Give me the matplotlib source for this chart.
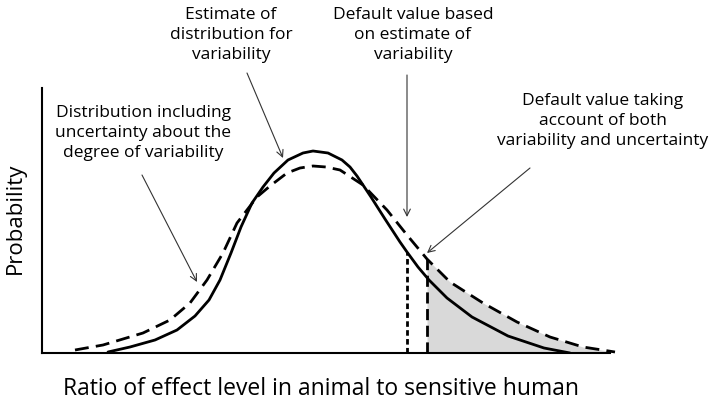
import numpy as np
import matplotlib
matplotlib.use("Agg")
import matplotlib.pyplot as plt

# Curve values (x: position along ratio axis, y: probability, arbitrary units)
solid_x = [66, 88, 113, 135, 153, 167, 178, 189, 199, 210, 221, 232, 246, 261,
           271, 286, 300, 308, 315, 329, 343, 358, 365, 376, 387, 405, 430,
           466, 502, 528]
solid_y = [1, 6, 13, 23, 37, 53, 73, 100, 126, 150, 166, 180, 193, 200,
           202, 200, 193, 186, 177, 156, 134, 111, 101, 86, 73, 55, 36,
           17, 5, 0]

dash_x = [33, 61, 101, 128, 148, 165, 181, 195, 215, 228, 245, 258, 271, 284,
          298, 321, 345, 365, 375, 385, 408, 441, 475, 508, 541, 573]
dash_y = [3, 8, 20, 33, 50, 73, 100, 130, 156, 167, 180, 185, 187, 186,
          183, 168, 143, 118, 106, 94, 71, 50, 31, 16, 6, 1]

default_variability = 365
default_both = 385

xlabel = "Ratio of effect level in animal to sensitive human"
ylabel = "Probability"
note_estimate = "Estimate of\ndistribution for\nvariability"
note_including = "Distribution including\nuncertainty about the\ndegree of variability"
note_default_var = "Default value based\non estimate of\nvariability"
note_default_both = "Default value taking\naccount of both\nvariability and uncertainty"

plt.rcParams['font.family'] = ['Open Sans', 'DejaVu Sans']

W, H = 709, 409
fig = plt.figure(figsize=(W / 100, H / 100), dpi=100)
ax = fig.add_axes([42 / W, (H - 353) / H, 568 / W, 265 / H])
ax.set_xlim(0, 568)
ax.set_ylim(0, 265)
for s in ['top', 'right']:
    ax.spines[s].set_visible(False)
for s in ['left', 'bottom']:
    ax.spines[s].set_linewidth(1.5)
    ax.spines[s].set_color('black')
ax.set_xticks([])
ax.set_yticks([])

dx = np.array(dash_x, float)
dy = np.array(dash_y, float)
sx = np.array(solid_x, float)
sy = np.array(solid_y, float)

# shaded tail under the dashed curve
mask = dx >= default_both
fx = np.concatenate([[default_both], dx[mask]])
fy = np.concatenate([[np.interp(default_both, dx, dy)], dy[mask]])
ax.fill_between(fx, 0, fy, color='#d9d9d9', lw=0, zorder=1)

# vertical default lines
ax.plot([default_variability, default_variability],
        [0, np.interp(default_variability, sx, sy)],
        color='black', lw=2, linestyle=(0, (2, 1.2)), zorder=2)
ax.plot([default_both, default_both],
        [0, np.interp(default_both, dx, dy)],
        color='black', lw=2, linestyle=(0, (4, 2)), zorder=2)

ax.plot(dx, dy, color='black', lw=2, linestyle=(0, (5, 2.6)),
        clip_on=False, zorder=3)
ax.plot(sx, sy, color='black', lw=2, solid_joinstyle='round',
        solid_capstyle='round', zorder=4)

fs = 12.5
def ftext(x, y, s, **kw):
    fig.text(x / W, 1 - y / H, s, ha='center', va='center', fontsize=fs,
             linespacing=1.3, **kw)

ftext(231, 35, note_estimate)
ftext(143, 133, note_including)
ftext(413, 35, note_default_var)
ftext(603, 121, note_default_both)

fig.text(321 / W, 1 - 389 / H, xlabel, ha='center', va='center', fontsize=16.5)
fig.text(15 / W, 1 - 218 / H, ylabel, ha='center', va='center', fontsize=16,
         rotation=90)

def arrow(tail_px, tip_data):
    ax.annotate("", xy=tip_data, xycoords='data',
                xytext=(tail_px[0], H - tail_px[1]), textcoords='figure pixels',
                arrowprops=dict(arrowstyle='->', color='#333333', lw=0.8,
                                shrinkA=0, shrinkB=0, mutation_scale=12),
                annotation_clip=False)

arrow((247, 73), (241, 195))
arrow((142, 175), (155, 71))
arrow((407, 75), (365, 136))
arrow((530, 168), (385, 100))

fig.savefig("out.png", dpi=100)
